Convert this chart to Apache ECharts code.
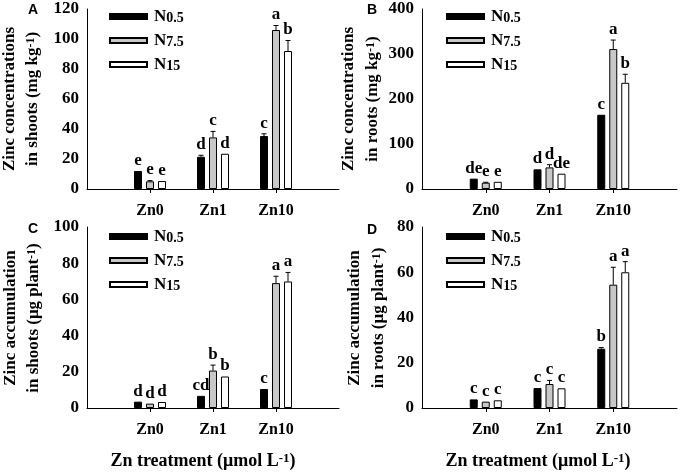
<!DOCTYPE html>
<html>
<head>
<meta charset="utf-8">
<script src="https://cdn.jsdelivr.net/npm/echarts@6/dist/echarts.min.js"></script>
<style>html,body{margin:0;padding:0;background:#fff}#c{width:680px;height:472px}</style>
</head>
<body>
<div id="c"></div>
<script>
const categories = ['', 'Zn0', 'Zn1', 'Zn10', ''];
const seriesNames = ['N0.5', 'N7.5', 'N15'];

// A: Zinc concentrations in shoots
const shootConcN05 = [12, 21.5, 35.3];
const shootConcN75 = [5.1, 34.4, 106];
const shootConcN15 = [5.3, 23.5, 92];
const shootConcErrN05 = [0, 1, 1.5];
const shootConcErrN75 = [0.5, 4, 3];
const shootConcErrN15 = [0, 0, 7];
const shootConcLetN05 = ['e', 'd', 'c'];
const shootConcLetN75 = ['e', 'c', 'a'];
const shootConcLetN15 = ['e', 'd', 'b'];

// B: Zinc concentrations in roots
const rootConcN05 = [23, 43.7, 165];
const rootConcN75 = [14, 48, 311];
const rootConcN15 = [16, 34, 236];
const rootConcErrN05 = [0, 0, 0];
const rootConcErrN75 = [1, 6, 20];
const rootConcErrN15 = [0, 0, 19];
const rootConcLetN05 = ['de', 'd', 'c'];
const rootConcLetN75 = ['e', 'd', 'a'];
const rootConcLetN15 = ['e', 'de', 'b'];

// C: Zinc accumulation in shoots
const shootAccN05 = [3.5, 6.7, 10.5];
const shootAccN75 = [2.4, 20.7, 69];
const shootAccN15 = [3.3, 17.4, 69.9];
const shootAccErrN05 = [0, 0, 0];
const shootAccErrN75 = [0, 3, 3.8];
const shootAccErrN15 = [0, 0, 5];
const shootAccLetN05 = ['d', 'cd', 'c'];
const shootAccLetN75 = ['d', 'b', 'a'];
const shootAccLetN15 = ['d', 'b', 'a'];

// D: Zinc accumulation in roots
const rootAccN05 = [3.8, 8.8, 26.2];
const rootAccN75 = [2.8, 10.6, 54.5];
const rootAccN15 = [3.4, 8.7, 60];
const rootAccErrN05 = [0, 0, 0.5];
const rootAccErrN75 = [0, 1.6, 7.7];
const rootAccErrN15 = [0, 0, 4.7];
const rootAccLetN05 = ['c', 'c', 'b'];
const rootAccLetN75 = ['c', 'c', 'a'];
const rootAccLetN15 = ['c', 'c', 'a'];

const yMaxA = 120, yIntA = 20;
const yMaxB = 400, yIntB = 100;
const yMaxC = 100, yIntC = 20;
const yMaxD = 80, yIntD = 20;

const FONT = 'Liberation Serif';

const panels = [
  { grid: {left: 87, right: 341, top: 9, bottom: 283}, max: yMaxA, interval: yIntA,
    vals: [shootConcN05, shootConcN75, shootConcN15], errs: [shootConcErrN05, shootConcErrN75, shootConcErrN15],
    lets: [shootConcLetN05, shootConcLetN75, shootConcLetN15], legend: {left: 109, top: 8} },
  { grid: {left: 422, right: 3, top: 9, bottom: 283}, max: yMaxB, interval: yIntB,
    vals: [rootConcN05, rootConcN75, rootConcN15], errs: [rootConcErrN05, rootConcErrN75, rootConcErrN15],
    lets: [rootConcLetN05, rootConcLetN75, rootConcLetN15], legend: {left: 446, top: 8} },
  { grid: {left: 87, right: 341, top: 227, bottom: 64}, max: yMaxC, interval: yIntC,
    vals: [shootAccN05, shootAccN75, shootAccN15], errs: [shootAccErrN05, shootAccErrN75, shootAccErrN15],
    lets: [shootAccLetN05, shootAccLetN75, shootAccLetN15], legend: {left: 109, top: 228} },
  { grid: {left: 422, right: 3, top: 227, bottom: 64}, max: yMaxD, interval: yIntD,
    vals: [rootAccN05, rootAccN75, rootAccN15], errs: [rootAccErrN05, rootAccErrN75, rootAccErrN15],
    lets: [rootAccLetN05, rootAccLetN75, rootAccLetN15], legend: {left: 446, top: 228} }
];

const barStyles = [
  {color: '#000000', borderColor: '#000000', borderWidth: 1},
  {color: '#c8c8c8', borderColor: '#000000', borderWidth: 1},
  {color: '#ffffff', borderColor: '#000000', borderWidth: 1}
];
const BAR_W = 8, STEP = 12;

const grids = [], xAxes = [], yAxes = [], series = [], legends = [];
panels.forEach((p, gi) => {
  grids.push(p.grid);
  xAxes.push({
    type: 'category', gridIndex: gi, data: categories, boundaryGap: false,
    axisLine: {lineStyle: {color: '#000', width: 1}},
    axisTick: {show: true, length: 4, lineStyle: {color: '#000'}, interval: (i, v) => v !== ''},
    axisLabel: {interval: 0, margin: 14, color: '#000', fontFamily: FONT, fontWeight: 'bold', fontSize: 16}
  });
  yAxes.push({
    type: 'value', gridIndex: gi, min: 0, max: p.max, interval: p.interval,
    splitLine: {show: false},
    axisLine: {show: true, lineStyle: {color: '#000', width: 1}},
    axisTick: {show: false},
    axisLabel: {margin: 8, color: '#000', fontFamily: FONT, fontWeight: 'bold', fontSize: 17}
  });
  legends.push({
    data: seriesNames, orient: 'vertical', left: p.legend.left, top: p.legend.top,
    icon: 'rect', itemWidth: 37, itemHeight: 5, itemGap: 7, padding: 0,
    selectedMode: false,
    formatter: n => '{n|N}{s|' + n.slice(1) + '}',
    textStyle: {color: '#000', fontFamily: FONT, fontWeight: 'bold', fontSize: 16, padding: [0, 0, 0, 2],
      rich: {n: {fontFamily: FONT, fontWeight: 'bold', fontSize: 17, color: '#000', verticalAlign: 'bottom'},
             s: {fontFamily: FONT, fontWeight: 'bold', fontSize: 14, color: '#000', verticalAlign: 'bottom', padding: [3, 0, 0, 0]}}}
  });
  seriesNames.forEach((name, k) => {
    series.push({
      type: 'bar', name, xAxisIndex: gi, yAxisIndex: gi,
      barWidth: BAR_W, barGap: '50%',
      itemStyle: barStyles[k],
      data: ['-'].concat(p.vals[k]).concat(['-']),
      silent: true
    });
    const offset = (k - 1) * STEP;
    const letters = p.lets[k];
    series.push({
      type: 'custom', name: name + '_err', xAxisIndex: gi, yAxisIndex: gi, z: 5, silent: true,
      encode: {x: 0, y: 1},
      data: p.vals[k].map((v, i) => [i + 1, v, p.errs[k][i]]),
      renderItem: (params, api) => {
        const cat = api.value(0), v = api.value(1), e = api.value(2);
        const x = api.coord([cat, 0])[0] + offset;
        const base = api.coord([cat, v])[1];
        const top = api.coord([cat, v + e])[1];
        const children = [];
        if (e > 0) {
          children.push({type: 'line', shape: {x1: x, y1: base, x2: x, y2: top}, style: {stroke: '#000', lineWidth: 1}});
          children.push({type: 'line', shape: {x1: x - 2.5, y1: top, x2: x + 2.5, y2: top}, style: {stroke: '#000', lineWidth: 1}});
        }
        children.push({type: 'text', x: x, y: top - 2, style: {text: letters[params.dataIndex], fill: '#000',
          font: 'bold 17px "' + FONT + '"', textAlign: 'center', textVerticalAlign: 'bottom'}});
        return {type: 'group', children};
      }
    });
  });
});

function yTitle(x, y, txt) {
  return {type: 'text', x, y, rotation: Math.PI / 2,
    style: {text: txt, fill: '#000', font: 'bold 17px "' + FONT + '"', textAlign: 'center', textVerticalAlign: 'middle',
      rich: {sup: {fontFamily: FONT, fontWeight: 'bold', fontSize: 12, verticalAlign: 'top', fill: '#000'}}}};
}
function panelLabel(x, y, t) {
  return {type: 'text', x, y, style: {text: t, fill: '#000', font: 'bold 14px "Liberation Sans"', textAlign: 'center', textVerticalAlign: 'middle'}};
}
function xTitle(x, y) {
  return {type: 'text', x, y, style: {text: 'Zn treatment (μmol L{sup|-1})', fill: '#000', font: 'bold 18px "' + FONT + '"',
    textAlign: 'center', textVerticalAlign: 'middle',
    rich: {sup: {fontFamily: FONT, fontWeight: 'bold', fontSize: 13, verticalAlign: 'top', fill: '#000'}}}};
}

const graphic = [
  panelLabel(33, 10, 'A'), panelLabel(372, 10, 'B'), panelLabel(33, 229, 'C'), panelLabel(372, 230, 'D'),
  yTitle(10, 99, 'Zinc concentrations'), yTitle(33, 99, 'in shoots (mg kg{sup|-1})'),
  yTitle(349, 99, 'Zinc concentrations'), yTitle(373, 99, 'in roots (mg kg{sup|-1})'),
  yTitle(11, 318, 'Zinc accumulation'), yTitle(34, 318, 'in shoots (μg plant{sup|-1})'),
  yTitle(355, 318, 'Zinc accumulation'), yTitle(379, 318, 'in roots (μg plant{sup|-1})'),
  xTitle(203, 461), xTitle(538, 461)
];

const chart = echarts.init(document.getElementById('c'), null, {renderer: 'canvas'});
chart.setOption({
  animation: false,
  backgroundColor: '#ffffff',
  grid: grids, xAxis: xAxes, yAxis: yAxes, legend: legends, series, graphic
});
</script>
</body>
</html>
